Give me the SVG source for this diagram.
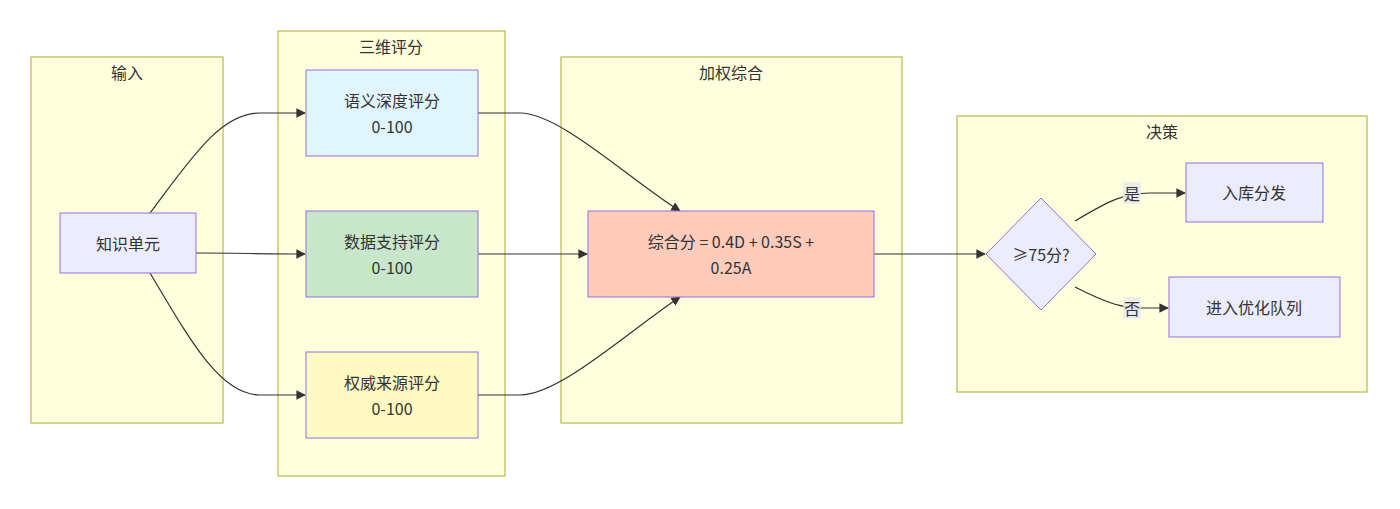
<svg xmlns="http://www.w3.org/2000/svg" width="1400" height="509" viewBox="0 0 1400 509">
<style>
text{font-family:"Noto Sans CJK SC","Noto Sans","Liberation Sans",sans-serif;font-size:16px;fill:#333;text-anchor:middle;dominant-baseline:central}
.cl{fill:#ffffde;stroke:#aaaa33;stroke-width:1}
.n{fill:#ececff;stroke:#9370db;stroke-width:1}
.e{fill:none;stroke:#333;stroke-width:1.2;marker-end:url(#a)}
.lb{fill:#e8e8e8;opacity:0.8}
</style>
<defs><marker id="a" viewBox="0 0 10 10" refX="9" refY="5" markerWidth="8" markerHeight="8" orient="auto"><path d="M0,0L10,5L0,10z" fill="#333"/></marker></defs>
<rect width="1400" height="509" fill="#fff"/>
<g id="c1"><rect class="cl" x="31" y="57" width="192" height="366"/><text x="127" y="72">输入</text></g>
<g id="c2"><rect class="cl" x="278" y="31" width="227" height="445"/><text x="391" y="46">三维评分</text></g>
<g id="c3"><rect class="cl" x="561" y="57" width="341" height="366"/><text x="731" y="72">加权综合</text></g>
<g id="c4"><rect class="cl" x="957" y="116" width="410" height="276"/><text x="1162" y="131">决策</text></g>
<g id="edges">
<path class="e" d="M150,213 C190,160 220,113 260,113 L305,113"/>
<path class="e" d="M196,253 C240,253 260,254 305,254"/>
<path class="e" d="M150,273 C190,340 220,395 260,395 L305,395"/>
<path class="e" d="M478,113 L520,113 C560,113 630,180 680,211"/>
<path class="e" d="M478,254 L587,254"/>
<path class="e" d="M478,395 L520,395 C560,395 630,330 680,297"/>
<path class="e" d="M874,254 L985,254"/>
<path class="e" d="M1075,221 C1110,200 1125,193 1150,193 L1185,193"/>
<path class="e" d="M1075,287 C1110,305 1125,308 1140,308 L1168,308"/>
<rect class="lb" x="1123" y="182" width="18" height="22"/><text x="1132" y="193">是</text>
<rect class="lb" x="1123" y="297" width="18" height="22"/><text x="1132" y="308">否</text>
</g>
<g id="n1"><rect class="n" x="60" y="213" width="136" height="60"/><text x="128" y="243">知识单元</text></g>
<g id="n2"><rect class="n" x="306" y="70" width="172" height="86" fill="#e1f5fe" style="fill:#e1f5fe"/><text x="392" y="100">语义深度评分</text><text x="392" y="126">0-100</text></g>
<g id="n3"><rect class="n" x="306" y="211" width="172" height="86" style="fill:#c8e6c9"/><text x="392" y="241">数据支持评分</text><text x="392" y="267">0-100</text></g>
<g id="n4"><rect class="n" x="306" y="352" width="172" height="86" style="fill:#fff9c4"/><text x="392" y="382">权威来源评分</text><text x="392" y="408">0-100</text></g>
<g id="n5"><rect class="n" x="588" y="211" width="286" height="86" style="fill:#ffccbc"/><text x="731" y="241">综合分 = 0.4D + 0.35S +</text><text x="731" y="267">0.25A</text></g>
<g id="n6"><polygon class="n" points="1041,198 1096,254 1041,310 986,254"/><text x="1041" y="254">≥75分?</text></g>
<g id="n7"><rect class="n" x="1186" y="163" width="137" height="59"/><text x="1254" y="192">入库分发</text></g>
<g id="n8"><rect class="n" x="1169" y="277" width="171" height="60"/><text x="1254" y="307">进入优化队列</text></g>
</svg>
